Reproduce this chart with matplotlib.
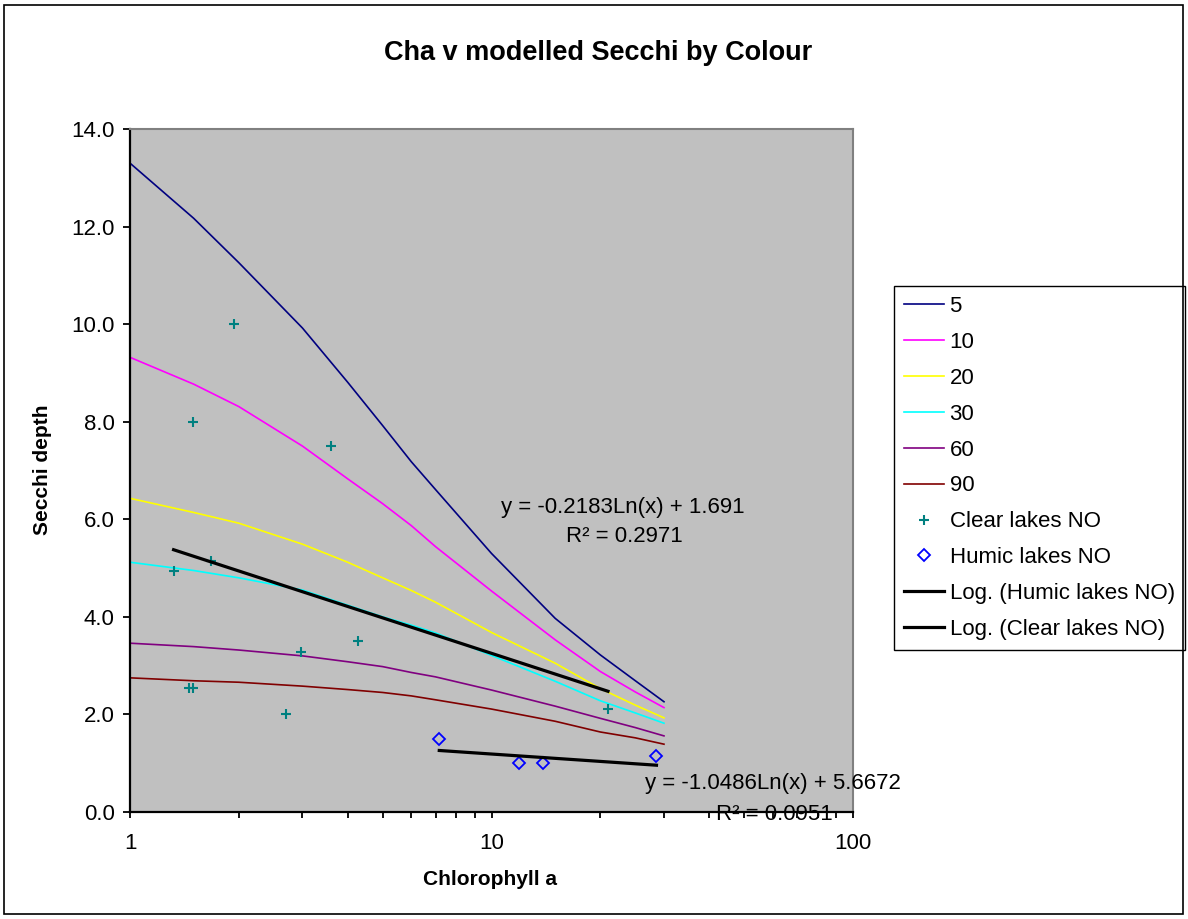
import numpy as np
import matplotlib
matplotlib.use("Agg")
import matplotlib.pyplot as plt
from matplotlib.patches import Rectangle
from matplotlib.ticker import LogLocator, FixedLocator, FuncFormatter

plt.rcParams['font.family'] = ['Liberation Sans', 'DejaVu Sans']

# modelled Secchi curves, one per colour value
chl = [1, 1.5, 2, 3, 4, 5, 6, 7, 10, 15, 20, 25, 30]
col_5 = [13.3, 12.17, 11.26, 9.92, 8.81, 7.92, 7.18, 6.61, 5.30, 3.97, 3.22, 2.69, 2.26]
col_10 = [9.32, 8.77, 8.31, 7.50, 6.83, 6.32, 5.87, 5.44, 4.53, 3.53, 2.88, 2.46, 2.14]
col_20 = [6.43, 6.14, 5.92, 5.49, 5.12, 4.80, 4.54, 4.30, 3.68, 3.05, 2.53, 2.19, 1.93]
col_30 = [5.12, 4.95, 4.80, 4.55, 4.24, 4.00, 3.83, 3.67, 3.21, 2.68, 2.28, 2.03, 1.82]
col_60 = [3.46, 3.39, 3.32, 3.20, 3.08, 2.98, 2.86, 2.77, 2.50, 2.17, 1.92, 1.73, 1.56]
col_90 = [2.75, 2.69, 2.66, 2.58, 2.51, 2.45, 2.38, 2.30, 2.11, 1.86, 1.64, 1.52, 1.39]
curve_names = ['5', '10', '20', '30', '60', '90']
curve_colors = ['#000080', '#FF00FF', '#FFFF00', '#00FFFF', '#800080', '#800000']

# observed lakes
clear_x = [1.32, 1.46, 1.49, 1.49, 1.68, 1.94, 2.70, 2.97, 3.59, 4.27, 21.0]
clear_y = [4.95, 2.55, 2.55, 8.0, 5.15, 10.0, 2.0, 3.28, 7.5, 3.5, 2.12]
humic_x = [7.17, 11.9, 13.9, 28.6]
humic_y = [1.49, 1.0, 1.0, 1.15]

# log trendlines as shown on the chart: y = a*ln(x) + b
humic_a, humic_b, humic_r2 = -0.2183, 1.691, 0.2971
clear_a, clear_b, clear_r2 = -1.0486, 5.6672, 0.0951

W, H = 1188, 919
fig = plt.figure(figsize=(W / 100, H / 100), dpi=100)
ax = fig.add_axes([130 / W, 1 - 812 / H, 723 / W, 683 / H])
ax.set_facecolor('#C0C0C0')

curves = [col_5, col_10, col_20, col_30, col_60, col_90]
for name, vals, c in zip(curve_names, curves, curve_colors):
    ax.plot(chl, vals, color=c, lw=1.2, label=name)

ax.plot(clear_x, clear_y, ls='none', marker='+', ms=7, mew=1.5,
        color='#008080', label='Clear lakes NO')
ax.plot(humic_x, humic_y, ls='none', marker='D', ms=6.5, mew=1.3,
        mfc='none', mec='#0000FF', label='Humic lakes NO')

hx = np.linspace(min(humic_x), max(humic_x), 50)
ax.plot(hx, humic_a * np.log(hx) + humic_b, color='black', lw=2.3,
        label='Log. (Humic lakes NO)')
cx = np.linspace(min(clear_x), max(clear_x), 50)
ax.plot(cx, clear_a * np.log(cx) + clear_b, color='black', lw=2.3,
        label='Log. (Clear lakes NO)')

ax.set_xscale('log')
ax.set_xlim(1, 100)
ax.set_ylim(0, 14)
ax.yaxis.set_major_locator(FixedLocator(np.arange(0, 14.1, 2)))
ax.yaxis.set_major_formatter(FuncFormatter(lambda v, p: '%.1f' % v))
ax.xaxis.set_major_locator(FixedLocator([1, 10, 100]))
ax.xaxis.set_major_formatter(FuncFormatter(lambda v, p: '%d' % v))
ax.xaxis.set_minor_locator(LogLocator(base=10, subs=np.arange(2, 10)))
ax.xaxis.set_minor_formatter(FuncFormatter(lambda v, p: ''))

ax.tick_params(axis='y', direction='out', length=5, width=1.3, labelsize=16, pad=6)
ax.tick_params(axis='x', which='both', direction='out', length=4, width=1.3,
               labelsize=16, pad=11)
for s in ['left', 'bottom']:
    ax.spines[s].set_color('black')
    ax.spines[s].set_linewidth(1.6)
for s in ['top', 'right']:
    ax.spines[s].set_color('#808080')
    ax.spines[s].set_linewidth(1.5)

ax.set_xlabel('Chlorophyll a', fontsize=15, fontweight='bold')
ax.xaxis.set_label_coords(0.498, -0.085)
fig.text(42 / W, 1 - 470 / H, 'Secchi depth', rotation=90, ha='center',
         va='center', fontsize=15, fontweight='bold')
fig.text(598 / W, 1 - 53 / H, 'Cha v modelled Secchi by Colour', ha='center',
         va='center', fontsize=19.5, fontweight='bold')

# trendline labels (placed where Excel put them)
fig.text(623 / W, 1 - 508 / H, 'y = %.4fLn(x) + %.3f' % (humic_a, humic_b),
         ha='center', va='center', fontsize=16)
fig.text(624 / W, 1 - 537 / H, 'R\u00b2 = %.4f' % humic_r2,
         ha='center', va='center', fontsize=16)
fig.text(773 / W, 1 - 784 / H, 'y = %.4fLn(x) + %.4f' % (clear_a, clear_b),
         ha='center', va='center', fontsize=16)
fig.text(774 / W, 1 - 815 / H, 'R\u00b2 = %.4f' % clear_r2,
         ha='center', va='center', fontsize=16)

leg = ax.legend(loc='upper left', bbox_to_anchor=(894 / W, 1 - 286 / H),
                bbox_transform=fig.transFigure, borderaxespad=0, fontsize=16,
                frameon=True, fancybox=False, framealpha=1, edgecolor='black',
                handlelength=1.8, handletextpad=0.25, labelspacing=0.67,
                borderpad=0.45, numpoints=1)
leg.get_frame().set_linewidth(1.0)

fig.patches.append(Rectangle((4 / W, 1 - 914 / H), 1179 / W, 909 / H,
                             transform=fig.transFigure, fill=False,
                             edgecolor='black', lw=1.2))

fig.savefig('out.png', dpi=100)
